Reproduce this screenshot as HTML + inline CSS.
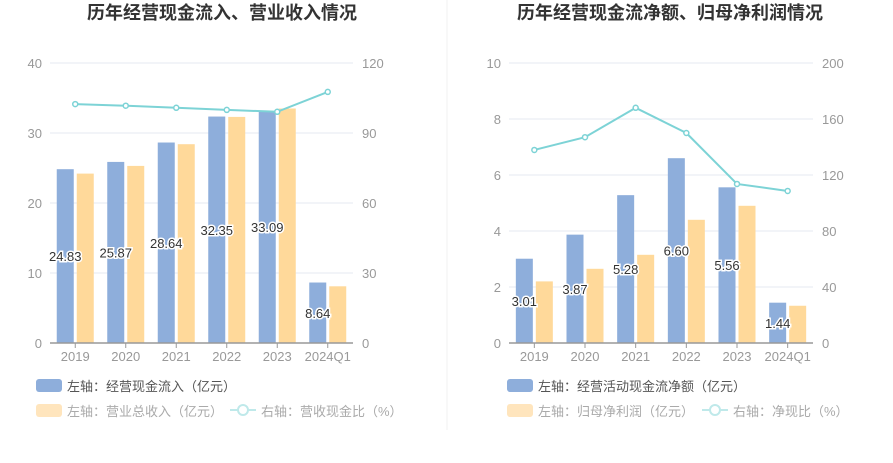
<!DOCTYPE html>
<html><head><meta charset="utf-8"><style>
body{margin:0;background:#fff;font-family:"Liberation Sans","Noto Sans CJK SC",sans-serif}
svg text{font-family:"Liberation Sans","Noto Sans CJK SC",sans-serif}
</style></head><body>
<svg id="s" width="893" height="458" xmlns="http://www.w3.org/2000/svg">
<line x1="447" y1="0" x2="447" y2="430" stroke="#f0f0f0"/>
</svg>
<script>
const categories=["2019","2020","2021","2022","2023","2024Q1"];
const c1Blue=[24.83,25.87,28.64,32.35,33.09,8.64];
const c1Orange=[24.2,25.3,28.4,32.3,33.5,8.1];
const c1Line=[102.4,101.7,100.8,99.9,99.1,107.6];
const c1LeftTicks=[0,10,20,30,40];
const c1RightTicks=[0,30,60,90,120];
const c2Blue=[3.01,3.87,5.28,6.60,5.56,1.44];
const c2Orange=[2.2,2.65,3.15,4.4,4.9,1.33];
const c2Line=[137.9,147,168,150,113.6,108.6];
const c2LeftTicks=[0,2,4,6,8,10];
const c2RightTicks=[0,40,80,120,160,200];
const svg=document.getElementById('s');
const NS='http://www.w3.org/2000/svg';
function mk(t,a,txt){const e=document.createElementNS(NS,t);for(const k in a)e.setAttribute(k,a[k]);if(txt!=null)e.textContent=txt;svg.appendChild(e);return e;}
function chart(o){
  const top=63,bot=343,x0=o.x0,x1=o.x1,n=categories.length,bw=(x1-x0)/n;
  const lmax=o.lt[o.lt.length-1],rmax=o.rt[o.rt.length-1];
  const yl=v=>bot-v/lmax*(bot-top), yr=v=>bot-v/rmax*(bot-top), cx=i=>x0+bw*(i+0.5);
  let e=mk('text',{x:o.tx,y:19,'text-anchor':'middle','font-size':18,'font-weight':'bold',fill:'#333'},o.title);
  
  o.lt.forEach((v,i)=>{
    if(i>0){e=mk('line',{x1:x0,x2:x1,y1:yl(v),y2:yl(v),stroke:'#e6e9f2'});}
    e=mk('text',{x:x0-8,y:yl(v)+5,'text-anchor':'end','font-size':13,fill:'#999'},v);
    
  });
  o.rt.forEach(v=>{e=mk('text',{x:x1+9,y:yr(v)+5,'font-size':13,fill:'#999'},v);
    });
  categories.forEach((c,i)=>{
    e=mk('rect',{x:cx(i)-18.5,y:yl(o.b[i]),width:17,height:bot-yl(o.b[i]),fill:'#8eaedb'});
    
    e=mk('rect',{x:cx(i)+1.5,y:yl(o.o[i]),width:17,height:bot-yl(o.o[i]),fill:'#ffd99a'});
    
    e=mk('line',{x1:cx(i),x2:cx(i),y1:bot,y2:bot+5,stroke:'#999'});
    
    e=mk('text',{x:cx(i),y:bot+18,'text-anchor':'middle','font-size':13,fill:'#999'},c);
    
  });
  e=mk('line',{x1:x0,x2:x1,y1:bot,y2:bot,stroke:'#999','stroke-width':1.5});
  
  e=mk('polyline',{points:o.l.map((v,i)=>cx(i)+','+yr(v)).join(' '),fill:'none',stroke:'#7dd3d6','stroke-width':2});
  
  o.l.forEach((v,i)=>{e=mk('circle',{cx:cx(i),cy:yr(v),r:2.5,fill:'#fff',stroke:'#7dd3d6','stroke-width':1.5});
    });
  o.b.forEach((v,i)=>{e=mk('text',{x:cx(i)-10,y:(yl(v)+bot)/2+5,'text-anchor':'middle','font-size':13,fill:'#333',stroke:'#fff','stroke-width':3,'paint-order':'stroke'},o.fmt(v));
    });
  e=mk('rect',{x:o.lx,y:379,width:26,height:13,rx:3,fill:'#8eaedb'});
  e=mk('text',{x:o.lx+31,y:391,'font-size':13,fill:'#555'},o.lg[0]);
  e=mk('rect',{x:o.lx,y:404,width:26,height:13,rx:3,fill:'#ffe5bd'});
  e=mk('text',{x:o.lx+31,y:416,'font-size':13,fill:'#aaa'},o.lg[1]);
  e=mk('line',{x1:o.lx2,x2:o.lx2+26,y1:410,y2:410,stroke:'#bfe9ea','stroke-width':2});
  e=mk('circle',{cx:o.lx2+13,cy:410,r:5,fill:'#fff',stroke:'#bfe9ea','stroke-width':2});
  e=mk('text',{x:o.lx2+31,y:416,'font-size':13,fill:'#aaa'},o.lg[2]);
}
chart({p:'inflow',x0:50,x1:353,tx:222,title:'历年经营现金流入、营业收入情况',lt:c1LeftTicks,rt:c1RightTicks,b:c1Blue,o:c1Orange,l:c1Line,fmt:v=>v.toFixed(2),lx:36,lx2:230,lg:['左轴：经营现金流入（亿元）','左轴：营业总收入（亿元）','右轴：营收现金比（%）']});
chart({p:'net',x0:509,x1:813,tx:670,title:'历年经营现金流净额、归母净利润情况',lt:c2LeftTicks,rt:c2RightTicks,b:c2Blue,o:c2Orange,l:c2Line,fmt:v=>v.toFixed(2),lx:507,lx2:702,lg:['左轴：经营活动现金流净额（亿元）','左轴：归母净利润（亿元）','右轴：净现比（%）']});
</script>
</body></html>
